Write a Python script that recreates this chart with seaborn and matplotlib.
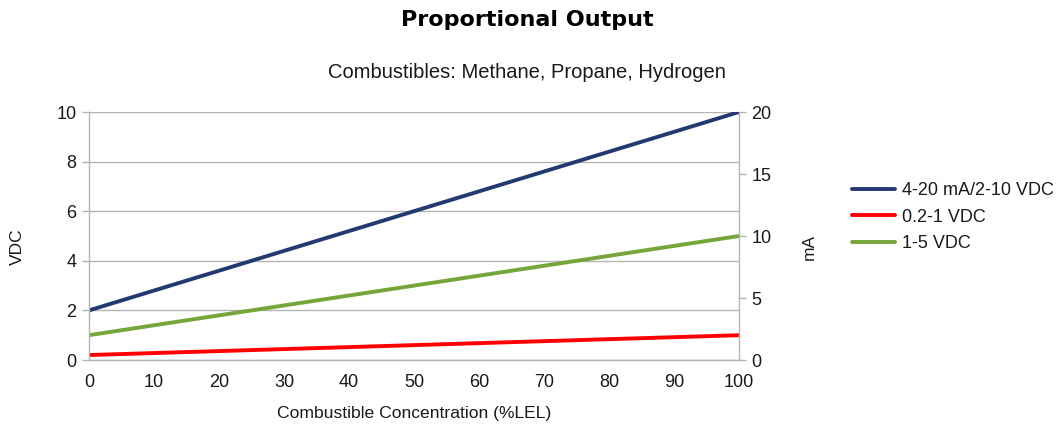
import matplotlib
matplotlib.use("Agg")
import matplotlib.pyplot as plt
import seaborn as sns
import pandas as pd
from matplotlib.lines import Line2D

sns.set_theme(style="white")
plt.rcParams['font.family'] = ['Liberation Sans', 'DejaVu Sans']

concentration = [0, 100]
series_names = ["4-20 mA/2-10 VDC", "0.2-1 VDC", "1-5 VDC"]
vdc_4_20 = [2, 10]
vdc_02_1 = [0.2, 1]
vdc_1_5 = [1, 5]
colors = ["#233a70", "#ff0000", "#76a53a"]

x_ticks = list(range(0, 101, 10))
left_ticks = [0, 2, 4, 6, 8, 10]
right_ticks = [0, 5, 10, 15, 20]

rows = []
for name, vals in zip(series_names, [vdc_4_20, vdc_02_1, vdc_1_5]):
    for x, v in zip(concentration, vals):
        rows.append({"x": x, "VDC": v, "series": name})
df = pd.DataFrame(rows)

fig = plt.figure(figsize=(10.63, 4.34), dpi=100)
ax = fig.add_axes([0.0837, 0.1705, 0.6115, 0.5714])

sns.lineplot(data=df, x="x", y="VDC", hue="series", hue_order=series_names,
             palette=colors, linewidth=2.8, ax=ax, legend=False)

grey = "#b3b3b3"
txt = "#1a1a1a"
ax.set_xlim(0, 100)
ax.set_ylim(0, 10)
ax.set_xticks(x_ticks)
ax.set_yticks(left_ticks)
ax.yaxis.grid(True, color=grey, linewidth=1)
ax.xaxis.grid(False)
for s in ["left", "right", "bottom"]:
    ax.spines[s].set_color(grey)
    ax.spines[s].set_linewidth(1)
ax.spines["top"].set_visible(False)
ax.tick_params(axis="both", direction="out", length=5, color=grey, width=1,
               labelsize=13, labelcolor=txt, pad=4)
ax.tick_params(axis="x", pad=5)
ax.set_xlabel("Combustible Concentration (%LEL)", fontsize=12.6, labelpad=11, color=txt)
ax.set_ylabel("VDC", fontsize=12.5, color=txt)
ax.yaxis.set_label_coords(-0.098, 0.455)

ax2 = ax.twinx()
ax2.set_ylim(0, 20)
ax2.set_yticks(right_ticks)
for s in ["left", "right", "bottom", "top"]:
    ax2.spines[s].set_visible(False)
ax2.tick_params(axis="y", direction="out", length=5, color=grey, width=1,
                labelsize=13, labelcolor=txt, pad=4)
ax2.set_ylabel("mA", fontsize=12.5, color=txt)
ax2.yaxis.set_label_coords(1.097, 0.455)

handles = [Line2D([0], [0], color=c, linewidth=2.8) for c in colors]
fig.legend(handles, series_names, loc="center left", bbox_to_anchor=(0.8015, 0.5),
           frameon=False, fontsize=13, handlelength=2.4, handletextpad=0.38,
           labelspacing=0.52, labelcolor=txt, borderaxespad=0, borderpad=0)

fig.text(0.496, 0.953, "Proportional Output", ha="center", va="center",
         fontsize=16, fontweight="bold", color="black", family="DejaVu Sans")
fig.text(0.496, 0.832, "Combustibles: Methane, Propane, Hydrogen", ha="center",
         va="center", fontsize=14.5, color=txt)

fig.savefig("out.png", dpi=100)
